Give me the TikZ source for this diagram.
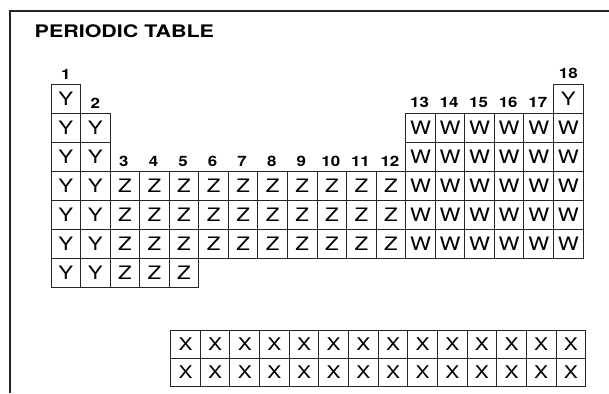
\documentclass[tikz,border=0pt]{standalone}
\usepackage{fontspec}
\setmainfont{TeX Gyre Heros}
\newfontfamily\cellfont[FakeStretch=1.2]{TeX Gyre Heros}
\newfontfamily\labfont[FakeStretch=1.18]{TeX Gyre Heros}
\newfontfamily\ttlfont[FakeStretch=1.24]{TeX Gyre Heros}
\begin{document}
\begin{tikzpicture}[x=1pt,y=-1pt,
  cellbox/.style={draw=black!85, line width=1pt, minimum width=29.56pt, minimum height=29pt,
    inner sep=0pt, outer sep=0pt, anchor=north west,
    font=\cellfont\fontsize{18.5}{18.5}\selectfont, text height=13.2pt, text depth=0pt},
  fbox/.style={cellbox, minimum width=29.64pt, minimum height=27.65pt,
    font=\cellfont\fontsize{17.5}{17.5}\selectfont, text height=12.5pt},
  grplab/.style={anchor=base, inner sep=0pt, font=\labfont\bfseries\fontsize{14.3}{14.3}\selectfont},
  framestyle/.style={line width=2pt, draw=black!85}
]
\useasboundingbox (0,0) rectangle (609,393);
% frame
\coordinate (fbl) at (10,393);
\coordinate (ftl) at (10,11);
\coordinate (ftr) at (609,11);
\draw[framestyle] (fbl) -- (ftl) -- (ftr);
% title
\node[anchor=base west, inner sep=0pt, font=\ttlfont\bfseries\fontsize{17.3}{17.3}\selectfont] (title) at (34.5,37.3) {PERIODIC TABLE};
% main block
\node[cellbox] (c1-1) at (51,84.3) {Y};
\node[cellbox] (c1-18) at ({51+17*29.56},84.3) {Y};
\foreach \r in {2,...,7} \foreach \c in {1,2}
  \node[cellbox] (c\r-\c) at ({51+(\c-1)*29.56},{84.3+(\r-1)*29}) {Y};
\foreach \r in {2,...,6} \foreach \c in {13,...,18}
  \node[cellbox] (c\r-\c) at ({51+(\c-1)*29.56},{84.3+(\r-1)*29}) {W};
\foreach \r in {4,5,6} \foreach \c in {3,...,12}
  \node[cellbox] (c\r-\c) at ({51+(\c-1)*29.56},{84.3+(\r-1)*29}) {Z};
\foreach \c in {3,4,5}
  \node[cellbox] (c7-\c) at ({51+(\c-1)*29.56},{84.3+6*29}) {Z};
% group labels
\path (c1-1.north) ++(0,-4.4) node[grplab] (g1) {1};
\path (c2-2.north) ++(0,-4.4) node[grplab] (g2) {2};
\foreach \c in {3,...,12}
  \path (c4-\c.north) ++(-1,-4.4) node[grplab] (g\c) {\c};
\foreach \c in {13,...,17}
  \path (c2-\c.north) ++(-1,-5.4) node[grplab] (g\c) {\c};
\path (c1-18.north) ++(0,-5.6) node[grplab] (g18) {18};
% f-block
\foreach \r in {1,2} \foreach \c in {1,...,14}
  \node[fbox] (f\r-\c) at ({170.7+(\c-1)*29.64},{330.7+(\r-1)*27.65}) {X};
\end{tikzpicture}
\end{document}
